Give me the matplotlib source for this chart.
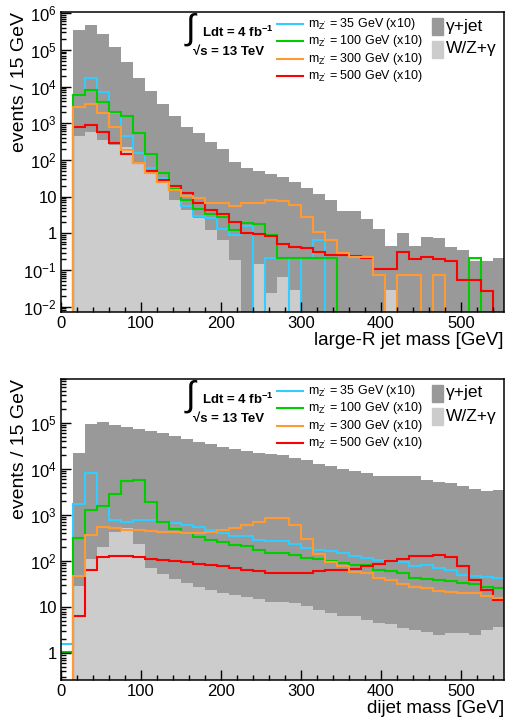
import numpy as np
import matplotlib
matplotlib.use('Agg')
import matplotlib.pyplot as plt
from matplotlib.patches import Rectangle
from matplotlib.ticker import FixedLocator, FuncFormatter, MultipleLocator, NullFormatter

plt.rcParams['font.family'] = ['Liberation Sans', 'DejaVu Sans']
plt.rcParams['mathtext.fontset'] = 'custom'
plt.rcParams['mathtext.rm'] = 'Liberation Sans'
plt.rcParams['mathtext.it'] = 'Liberation Sans:italic'
plt.rcParams['mathtext.bf'] = 'Liberation Sans:bold'

# 15 GeV bins from 0 to 555 GeV
edges = np.arange(0, 556, 15)

# ---- large-R jet mass ----
jet_total = [0, 3.4e5, 4.8e5, 2.7e5, 1.18e5, 4.6e4, 1.7e4, 7.8e3, 3.4e3, 1.6e3,
             800, 560, 300, 200, 90, 62, 50, 42, 35, 25,
             17, 12, 8, 4.2, 4.2, 2.4, 1.3, 0.45, 1.0, 0.45,
             0.8, 0.75, 0.42, 0.35, 0.18, 0.18, 0.22]
jet_wz = [0, 450, 590, 350, 257, 230, 89, 43, 23, 8.1,
          4.3, 2.6, 1.24, 0.66, 0.19, 0, 0.15, 0.023, 0.066, 0.028,
          0, 0, 0, 0, 0, 0, 0, 0.028, 0, 0,
          0, 0, 0, 0, 0, 0, 0]
jet_z35 = [0, 5.8e3, 1.7e4, 7e3, 1.9e3, 450, 155, 60, 33, 15,
           5.5, 3.0, 2.6, 1.3, 0.9, 1.6, 0, 0.22, 0.22, 0,
           0.22, 0.66, 0, 0, 0, 0, 0, 0, 0, 0,
           0, 0, 0, 0, 0, 0, 0]
jet_z100 = [0, 5.9e3, 8e3, 3.7e3, 2.0e3, 1.6e3, 535, 145, 45, 16,
            8.1, 4.5, 3.3, 2.8, 1.24, 1.87, 1.8, 0.9, 0.21, 0.21,
            0.21, 0.21, 0.21, 0, 0, 0, 0, 0, 0, 0,
            0, 0, 0, 0, 0.21, 0, 0]
jet_z300 = [0, 2.7e3, 3.4e3, 1.9e3, 800, 186, 85, 44, 24.5, 15,
            10.4, 9, 6.6, 6.6, 5.6, 6.9, 6.9, 8.3, 7.4, 6,
            2.85, 1.1, 0.66, 0.3, 0.23, 0.23, 0.072, 0, 0.072, 0.072,
            0, 0.072, 0, 0, 0, 0, 0]
jet_z500 = [0, 770, 900, 570, 285, 150, 85, 50, 28, 19.5,
            12.3, 6.9, 4.4, 3.4, 2.1, 1.0, 0.95, 0.85, 0.5, 0.42,
            0.4, 0.32, 0.26, 0.26, 0.24, 0.22, 0.105, 0.105, 0.32, 0.2,
            0.23, 0.2, 0.18, 0.054, 0.054, 0.027, 0]

# ---- dijet mass ----
dij_total = [0, 2.2e4, 9.5e4, 1.03e5, 8.9e4, 8.2e4, 7.5e4, 6.6e4, 5.9e4, 5.1e4,
             4.5e4, 3.9e4, 3.4e4, 3.0e4, 2.76e4, 2.4e4, 2.2e4, 2.1e4, 2.05e4, 1.74e4,
             1.6e4, 1.3e4, 1.18e4, 1.0e4, 9.2e3, 8.2e3, 7.2e3, 6.9e3, 7.2e3, 6.9e3,
             5.7e3, 5.1e3, 5.0e3, 4.3e3, 3.7e3, 3.3e3, 3.5e3]
dij_wz = [0, 28, 110, 200, 420, 520, 230, 71, 53, 41,
          33, 27, 23, 20, 18.5, 16.6, 15, 13, 13, 12,
          10.7, 8.7, 7.6, 6.4, 6.3, 5.3, 4.6, 4.2, 3.5, 3.2,
          2.9, 2.5, 2.7, 2.7, 2.5, 3.2, 3.6]
dij_z35 = [1.57, 1750, 8100, 1600, 760, 720, 760, 790, 705, 670,
           600, 540, 480, 405, 355, 345, 290, 270, 270, 235,
           190, 177, 163, 149, 131, 117, 107, 98, 93, 76,
           83, 71, 63, 50, 48, 46, 43]
dij_z100 = [1.03, 317, 1300, 1560, 2900, 5400, 5700, 1900, 720, 500,
            405, 333, 290, 257, 228, 210, 177, 149, 149, 133,
            117, 110, 98, 91, 83, 80, 65, 62, 55, 43,
            41.5, 38, 36, 33, 31, 27, 26]
dij_z300 = [0, 48, 375, 545, 520, 480, 465, 440, 430, 420,
            405, 405, 420, 465, 520, 615, 705, 850, 870, 620,
            300, 140, 97, 76, 59, 56, 42, 39, 32, 27,
            26, 22, 21, 20, 20, 17.8, 16]
dij_z500 = [0, 6.5, 63, 121, 126, 131, 123, 110, 103, 98,
            93, 87, 80, 76, 71, 63, 60, 55, 56, 55,
            56, 60, 63, 65, 68, 76, 87, 98, 110, 126,
            131, 138, 123, 76, 39, 24, 14]

sig_labels = ["35", "100", "300", "500"]
sig_colors = ['#33ccff', '#00cc00', '#ff9933', '#ff0000']
DARK = '#999999'
LIGHT = '#cccccc'
FLOOR = 1e-9

W, H = 506, 719
fig = plt.figure(figsize=(W / 100, H / 100), dpi=100)


def log_label(v, pos):
    e = int(round(np.log10(v)))
    if e == 0:
        return '1'
    if e == 1:
        return '10'
    return r'$10^{%d}$' % e


def draw_panel(ax, total, wz, sigs, ylim, xlabel, xlab_y):
    ax.stairs(np.clip(total, FLOOR, None), edges, fill=True, color=DARK, baseline=FLOOR)
    ax.stairs(np.clip(wz, FLOOR, None), edges, fill=True, color=LIGHT, baseline=FLOOR)
    # cyan, green, red, then orange on top
    for k in [0, 1, 3, 2]:
        v = np.asarray(sigs[k], dtype=float)
        ax.stairs(np.where(v > 0, v, FLOOR), edges, color=sig_colors[k], lw=1.5, baseline=None)
    ax.set_yscale('log')
    ax.set_xlim(0, 554)
    ax.set_ylim(*ylim)
    # only ticks inside the visible range
    lo, hi = int(np.floor(np.log10(ylim[0]))), int(np.ceil(np.log10(ylim[1])))
    major = [10.0 ** e for e in range(lo, hi + 1) if ylim[0] <= 10.0 ** e <= ylim[1]]
    minor = [m * 10.0 ** e for e in range(lo, hi + 1) for m in range(2, 10)
             if ylim[0] <= m * 10.0 ** e <= ylim[1]]
    ax.yaxis.set_major_locator(FixedLocator(major))
    ax.yaxis.set_minor_locator(FixedLocator(minor))
    ax.yaxis.set_major_formatter(FuncFormatter(log_label))
    ax.yaxis.set_minor_formatter(NullFormatter())
    ax.xaxis.set_major_locator(MultipleLocator(100))
    ax.xaxis.set_minor_locator(MultipleLocator(20))
    ax.tick_params(which='both', direction='in', top=False, right=False, labelsize=12, width=1)
    ax.tick_params(which='major', length=7, pad=3)
    ax.tick_params(which='minor', length=3.5)
    for s in ax.spines.values():
        s.set_linewidth(1.1)
    ax.set_ylabel('events / 15 GeV', fontsize=14, loc='top')
    ax.yaxis.set_label_coords(-0.075, 1.0)
    ax.set_xlabel(xlabel, fontsize=13.5, loc='right')
    ax.xaxis.set_label_coords(1.0, xlab_y)


def annotate(top):
    # top = pixel y of axes top edge; reference positions measured for top=12
    d = top - 12

    def fx(x):
        return x / W

    def fy(y):
        return 1 - (y + d) / H

    fig.text(fx(186), fy(29), '\u222b', fontsize=25, va='center', ha='left')
    fig.text(fx(202), fy(32), r'Ldt = 4 fb$^{\mathbf{-1}}$', fontsize=9.5,
             fontweight='bold', va='center', ha='left')
    fig.text(fx(193), fy(52), '\u221as = 13 TeV', fontsize=9.5,
             fontweight='bold', va='center', ha='left')
    for k, lab in enumerate(sig_labels):
        yy = 24 + 17.3 * k
        fig.add_artist(plt.Line2D([fx(277), fx(303)], [fy(yy), fy(yy)],
                                  color=sig_colors[k], lw=1.5, transform=fig.transFigure))
        fig.text(fx(308), fy(yy), r"m$_{\mathrm{Z}^{\prime}}$ = %s GeV (x10)" % lab,
                 fontsize=9, va='center', ha='left')
    fig.add_artist(Rectangle((fx(432), fy(35)), 11 / W, 17 / H, color=DARK,
                             transform=fig.transFigure))
    fig.add_artist(Rectangle((fx(432), fy(58)), 11 / W, 17 / H, color=LIGHT,
                             transform=fig.transFigure))
    fig.text(fx(446), fy(26), '\u03b3+jet', fontsize=12.5, va='center', ha='left')
    fig.text(fx(446), fy(49), 'W/Z+\u03b3', fontsize=12.5, va='center', ha='left')


ax1 = fig.add_axes([61 / W, 1 - 312 / H, 443 / W, 300 / H])
draw_panel(ax1, jet_total, jet_wz, [jet_z35, jet_z100, jet_z300, jet_z500],
           (7.2e-3, 1.08e6), 'large-R jet mass [GeV]', -0.068)
annotate(12)

ax2 = fig.add_axes([61 / W, 1 - 680 / H, 443 / W, 301 / H])
draw_panel(ax2, dij_total, dij_wz, [dij_z35, dij_z100, dij_z300, dij_z500],
           (0.26, 9e5), 'dijet mass [GeV]', -0.066)
annotate(379)

fig.savefig('out.png', dpi=100)
